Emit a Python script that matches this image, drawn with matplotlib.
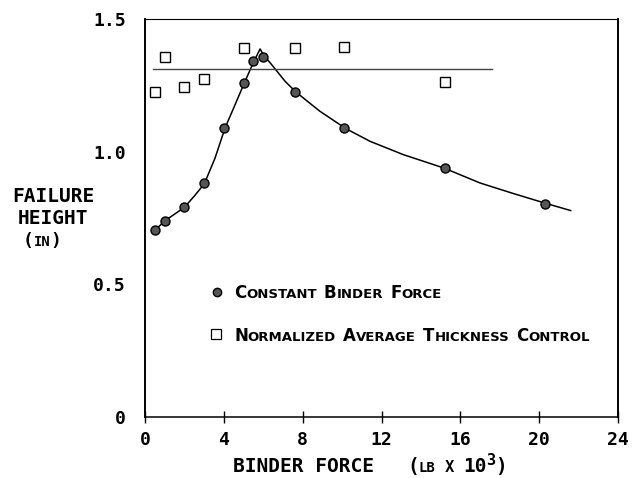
import matplotlib.pyplot as plt
from matplotlib.transforms import IdentityTransform

# Constant binder force tests (lb x 10^3, in)
cbf_force = [0.5, 1.0, 2.0, 3.0, 4.0, 5.0, 5.5, 6.0, 7.6, 10.1, 15.2, 20.3]
cbf_height = [0.705, 0.74, 0.79, 0.883, 1.09, 1.258, 1.343, 1.356, 1.223, 1.089, 0.937, 0.804]

# Normalized average thickness control tests
natc_force = [0.5, 1.0, 2.0, 3.0, 5.0, 7.6, 10.1, 15.2]
natc_height = [1.224, 1.357, 1.244, 1.275, 1.391, 1.39, 1.394, 1.262]

# Hand-drawn trend curve through the constant binder force points
curve_force = [0.45, 1.02, 2.0, 2.54, 3.01, 3.55, 4.06, 4.57, 5.04, 5.53, 5.84,
               6.05, 6.35, 6.6, 7.11, 7.67, 8.88, 10.19, 11.42, 13.1, 15.18,
               17.0, 18.7, 20.3, 21.6]
curve_height = [0.70, 0.74, 0.79, 0.836, 0.879, 0.975, 1.089, 1.177, 1.259, 1.341, 1.387,
                1.36, 1.335, 1.312, 1.265, 1.224, 1.152, 1.087, 1.039, 0.989, 0.938,
                0.882, 0.842, 0.806, 0.778]

# Average level of the thickness control runs
natc_level = 1.31
natc_level_span = [0.42, 17.6]

x_ticks = [0, 4, 8, 12, 16, 20, 24]
y_ticks = [0, 0.5, 1.0, 1.5]
y_tick_labels = ['0', '0.5', '1.0', '1.5']

mono = 'DejaVu Sans Mono'

fig = plt.figure(figsize=(6.33, 4.78), dpi=100)
ax = fig.add_axes([145 / 633, 1 - 417 / 478, 473 / 633, 398 / 478])

ax.plot(curve_force, curve_height, color='black', lw=1.1)
ax.plot(natc_level_span, [natc_level, natc_level], color='#444444', lw=1.0)
ax.plot(cbf_force, cbf_height, 'o', ms=6.5, mfc='#555555', mec='black', mew=1.0)
ax.plot(natc_force, natc_height, 's', ms=7, mfc='white', mec='black', mew=1.0)

ax.set_xlim(0, 24)
ax.set_ylim(0, 1.5)
ax.set_xticks(x_ticks)
ax.set_xticklabels([str(v) for v in x_ticks], family=mono, weight='bold', fontsize=13)
ax.set_yticks(y_ticks)
ax.set_yticklabels(y_tick_labels, family=mono, weight='bold', fontsize=13)
ax.tick_params(axis='x', direction='inout', length=8, width=1, pad=6)
ax.tick_params(axis='y', length=0, pad=14)
for side, lw in [('left', 1.4), ('bottom', 1.1), ('top', 0.8), ('right', 1.4)]:
    ax.spines[side].set_linewidth(lw)

renderer = fig.canvas.get_renderer()


def write_run(x, y, pieces, family, weight='bold'):
    # pieces: list of (text, size, rise) drawn one after another on a baseline
    for text, size, rise in pieces:
        t = fig.text(x, y + rise, text, fontsize=size, family=family, weight=weight,
                     va='baseline', ha='left', transform=IdentityTransform())
        x += t.get_window_extent(renderer).width
    return x


def small_caps(x, y, phrase, big, small, family, gap=7):
    for word in phrase.split():
        x = write_run(x, y, [(word[0], big, 0), (word[1:].upper(), small, 0)], family)
        x += gap
    return x


# legend
ax.plot([0.152], [0.315], 'o', ms=6, mfc='#555555', mec='black', mew=1.0,
        transform=ax.transAxes, clip_on=False)
ax.plot([0.150], [0.208], 's', ms=6.5, mfc='white', mec='black', mew=0.9,
        transform=ax.transAxes, clip_on=False)
small_caps(234, 180, 'Constant Binder Force', 12, 9.5, 'DejaVu Sans')
small_caps(234, 137, 'Normalized Average Thickness Control', 12, 9.5, 'DejaVu Sans')

# y axis title
fig.text(53, 276, 'FAILURE', fontsize=14, family=mono, weight='bold',
         ha='center', va='baseline', transform=IdentityTransform())
fig.text(53, 254, 'HEIGHT', fontsize=14, family=mono, weight='bold',
         ha='center', va='baseline', transform=IdentityTransform())
write_run(23, 232, [('(', 13, 0), ('IN', 10, 0), (')', 13, 0)], mono)

# x axis title
write_run(233, 6, [('BINDER FORCE', 14, 0)], mono)
write_run(407, 6, [('(', 14, 0), ('LB', 10, 0), (' X ', 11, 0), ('10', 14, 0),
                   ('3', 11, 7), (')', 14, 0)], mono)

fig.savefig('out.png', dpi=100)
